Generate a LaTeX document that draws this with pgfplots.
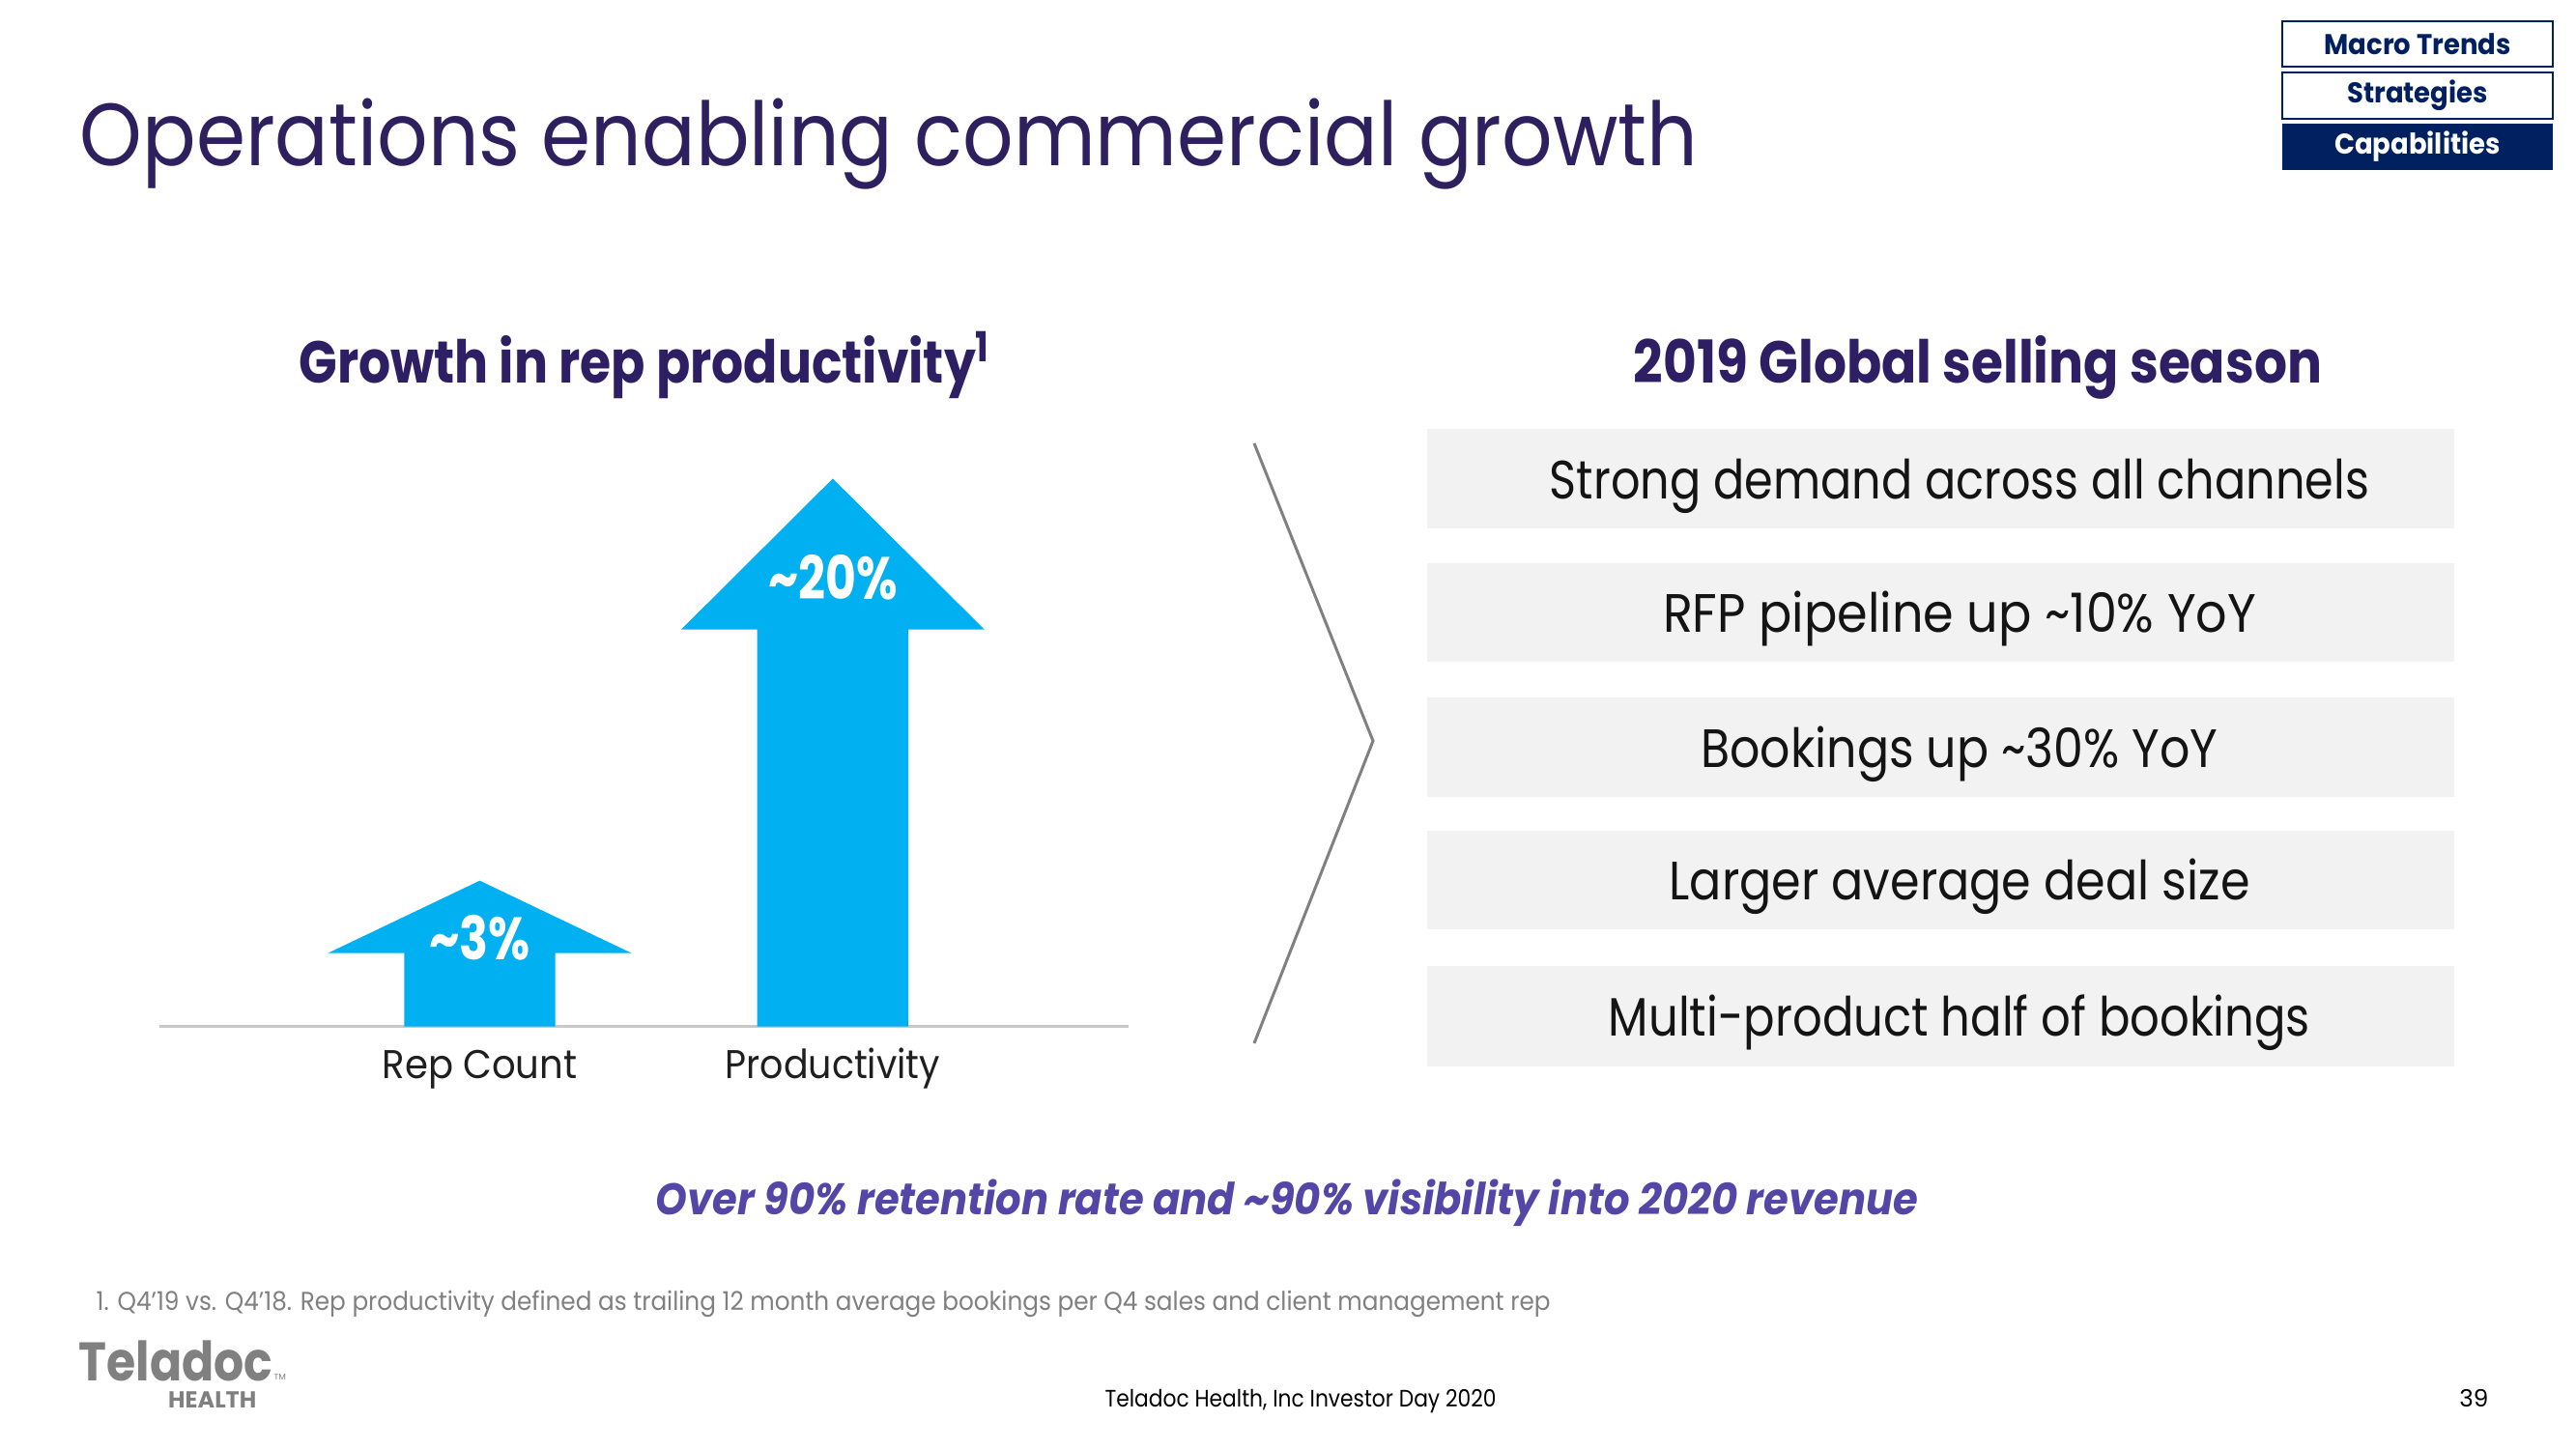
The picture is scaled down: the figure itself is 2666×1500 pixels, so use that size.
\documentclass[border=0pt]{standalone}
\usepackage{pgfplots}
\pgfplotsset{compat=1.18}
\usepackage{fontspec}
\setmainfont{Poppins}
\definecolor{titlepurple}{RGB}{46,31,94}
\definecolor{headpurple}{RGB}{46,31,100}
\definecolor{arrowblue}{RGB}{0,176,240}
\definecolor{navy}{RGB}{0,32,96}
\definecolor{boxgray}{RGB}{242,242,242}
\definecolor{basegray}{RGB}{200,200,200}
\definecolor{chevgray}{RGB}{128,128,128}
\definecolor{notegray}{RGB}{128,128,128}
\definecolor{italpurple}{RGB}{84,70,166}
\newcommand\fs[1]{\fontsize{#1}{#1}\selectfont}
\newcommand\sx[2]{\scalebox{#1}[1]{#2}}
\begin{document}
\begin{tikzpicture}
\begin{scope}[x=0.01cm,y=0.01cm]
\fill[white] (0,0) rectangle (2666,1500);
% title
\node[anchor=base west, inner sep=0, text=titlepurple, font=\fs{26}] at (82,1328) {\sx{0.90}{Operations enabling commercial growth}};
% tabs
\draw[navy, line width=0.6pt] (2362,1431) rectangle (2642,1478);
\node[text=navy, font=\fs{8.4}\bfseries] at (2502,1454.5) {\sx{0.93}{Macro Trends}};
\draw[navy, line width=0.6pt] (2362,1377) rectangle (2642,1425);
\node[text=navy, font=\fs{8.4}\bfseries] at (2502,1401) {\sx{0.93}{Strategies}};
\fill[navy] (2362,1324) rectangle (2642,1372);
\node[text=white, font=\fs{8.4}\bfseries] at (2502,1348) {\sx{0.93}{Capabilities}};
% section headers
\node[anchor=base west, inner sep=0, text=headpurple, font=\fs{17.4}\bfseries] at (309,1103) {\sx{0.85}{Growth in rep productivity\textsuperscript{1}}};
\node[anchor=base, inner sep=0, text=headpurple, font=\fs{17.4}\bfseries] at (2047,1103) {\sx{0.873}{2019 Global selling season}};
% chevron
\draw[chevgray, line width=0.85pt] (1298,1041) -- (1421,733) -- (1298,420);
% boxes
\foreach \yb/\yt/\sc/\txt in {953/1056/0.854/{Strong demand across all channels},815/917/0.909/{RFP pipeline up \textasciitilde10\% YoY},675/778/0.877/{Bookings up \textasciitilde30\% YoY},538/640/0.88/{Larger average deal size},396/500/0.86/{Multi-product half of bookings}}{
  \fill[boxgray] (1477,\yb) rectangle (2540,\yt);
  \node[anchor=base, inner sep=0, text=black!92, font=\fs{15.9}] at (2028,{(\yb+\yt)/2-21}) {\sx{\sc}{\txt}};
}
% statement
\node[anchor=base, inner sep=0, text=italpurple, font=\fs{13}\bfseries\itshape] at (1332,242) {\sx{0.912}{Over 90\% retention rate and \textasciitilde90\% visibility into 2020 revenue}};
% footnote
\node[anchor=base west, inner sep=0, text=notegray, font=\fs{7.6}] at (99,143) {\sx{0.925}{1. Q4’19 vs. Q4’18. Rep productivity defined as trailing 12 month average bookings per Q4 sales and client management rep}};
% logo
\node[anchor=base west, inner sep=0, text=notegray, font=\fs{16}\bfseries] at (81,70) {\sx{0.87}{Teladoc}};
\node[anchor=base west, inner sep=0, text=notegray, font=\fs{2.5}] at (283,71) {TM};
\node[anchor=base east, inner sep=0, text=notegray, font=\fs{6.8}\bfseries] at (266,42) {HEALTH};
% footer
\node[anchor=base, inner sep=0, text=black, font=\fs{7}] at (1346,43) {\sx{0.885}{Teladoc Health, Inc Investor Day 2020}};
\node[anchor=base east, inner sep=0, text=black, font=\fs{7}] at (2576,43) {39};
\end{scope}
% chart
\begin{axis}[
  at={(1.65cm,4.37cm)}, anchor=south west,
  scale only axis, width=10.02cm, height=6cm,
  xmin=-0.907, xmax=1.837, ymin=0, ymax=600,
  axis line style={draw=none},
  xtick={0,1}, xticklabels={\sx{0.93}{Rep Count}, \sx{0.915}{Productivity}},
  ytick=\empty, major tick length=0pt,
  xticklabel style={font=\fs{11.8}, text=black!88, anchor=base, yshift=-0.54cm},
  clip=false,
]
\addplot[basegray, line width=0.9pt] coordinates {(-0.907,0) (1.837,0)};
\addplot[fill=arrowblue, draw=none] coordinates {(-0.214,0) (-0.214,76) (-0.43,76) (0,151) (0.43,76) (0.214,76) (0.214,0)} -- cycle;
\addplot[fill=arrowblue, draw=none] coordinates {(0.786,0) (0.786,411) (0.571,411) (1,567) (1.429,411) (1.214,411) (1.214,0)} -- cycle;
\node[text=white, font=\fs{17.6}\bfseries] at (axis cs:0,92) {\sx{0.8}{\textasciitilde3\%}};
\node[text=white, font=\fs{17.6}\bfseries] at (axis cs:1,465) {\sx{0.79}{\textasciitilde20\%}};
\end{axis}
\end{tikzpicture}
\end{document}
